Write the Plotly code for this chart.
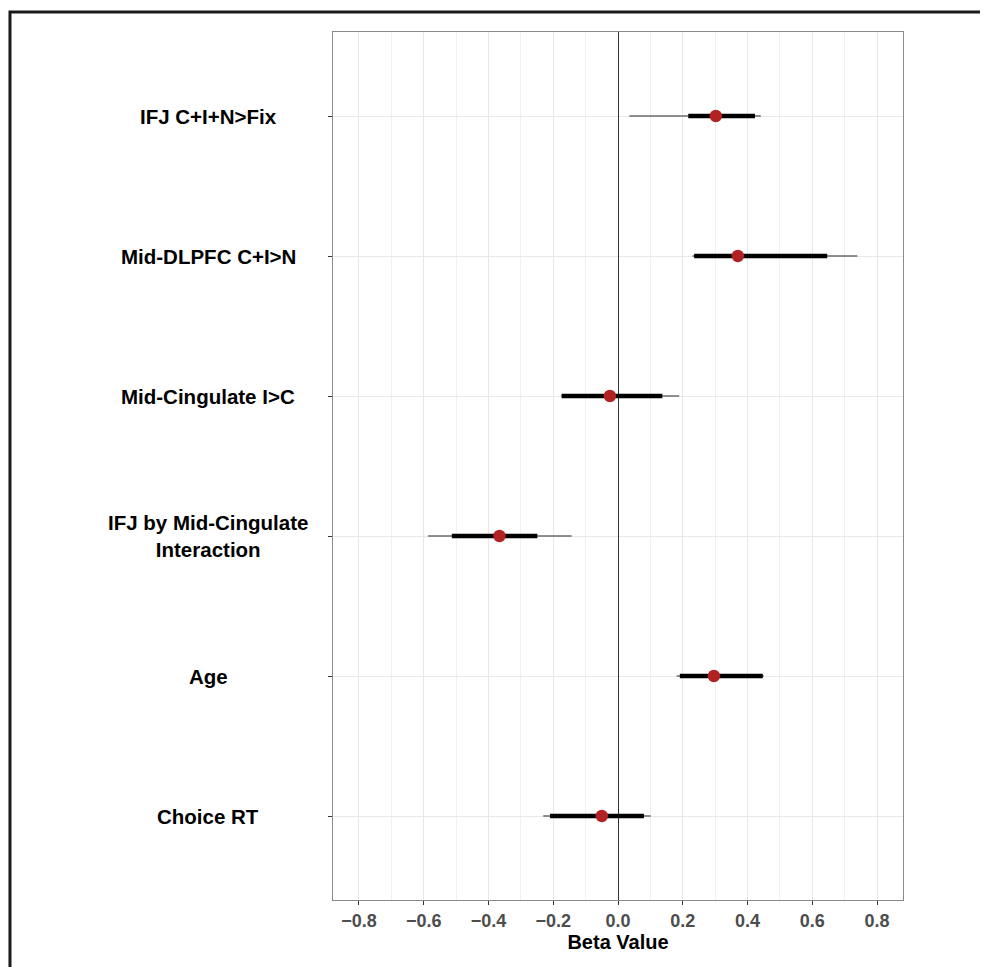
import plotly.graph_objects as go

labels = ["IFJ C+I+N>Fix", "Mid-DLPFC C+I>N", "Mid-Cingulate I>C",
          "IFJ by Mid-Cingulate\nInteraction", "Age", "Choice RT"]
beta = [0.302, 0.370, -0.025, -0.366, 0.296, -0.050]
outer_lo = [0.035, 0.230, -0.175, -0.587, 0.181, -0.231]
outer_hi = [0.441, 0.739, 0.189, -0.143, 0.450, 0.101]
inner_lo = [0.217, 0.235, -0.174, -0.513, 0.191, -0.210]
inner_hi = [0.423, 0.646, 0.137, -0.249, 0.447, 0.080]
x_ticks = [-0.8, -0.6, -0.4, -0.2, 0.0, 0.2, 0.4, 0.6, 0.8]

cats = [l.replace("\n", " ") for l in labels]

fig = go.Figure()

for c, lo, hi in zip(cats, outer_lo, outer_hi):
    fig.add_trace(go.Scatter(x=[lo, hi], y=[c, c], mode="lines",
                             line=dict(color="#6b6b6b", width=1.5),
                             showlegend=False, hoverinfo="skip"))
for c, lo, hi in zip(cats, inner_lo, inner_hi):
    fig.add_trace(go.Scatter(x=[lo, hi], y=[c, c], mode="lines",
                             line=dict(color="black", width=4.5),
                             showlegend=False, hoverinfo="skip"))
fig.add_trace(go.Scatter(x=beta, y=cats, mode="markers",
                         marker=dict(color="#b22222", size=12.5),
                         showlegend=False))

for c, l in zip(cats, labels):
    fig.add_annotation(x=-0.219, xref="paper", y=c, yref="y",
                       text=l.replace("\n", "<br>"), showarrow=False,
                       xanchor="center", yanchor="middle",
                       font=dict(family="Liberation Sans, Arial", size=20.5, color="black", weight="bold"))

fig.add_shape(type="rect", xref="paper", yref="paper",
              x0=-0.5667, x1=2, y0=-1, y1=1.023,
              line=dict(color="#1a1a1a", width=3), fillcolor="rgba(0,0,0,0)", layer="above")

fig.update_layout(
    width=980, height=959,
    margin=dict(l=325, r=85, t=24, b=67),
    paper_bgcolor="white", plot_bgcolor="white",
    font=dict(family="Liberation Sans, Arial"),
    xaxis=dict(
        range=[-0.88, 0.88], tickvals=x_ticks,
        ticktext=[("\u2212" if v < 0 else "") + f"{abs(v):.1f}" for v in x_ticks],
        showgrid=True, gridcolor="#e8e8e8", gridwidth=1,
        minor=dict(dtick=0.1, tick0=0.1, showgrid=True, gridcolor="#f0f0f0", gridwidth=1),
        zeroline=True, zerolinecolor="#333333", zerolinewidth=1.3,
        showline=True, mirror=True, linecolor="#8a8a8a", linewidth=1.3,
        ticks="outside", ticklen=4, tickcolor="#333333", tickwidth=1.2,
        tickfont=dict(size=18, color="#4d4d4d", weight="bold"),
        title=dict(text="Beta Value", font=dict(size=20, color="black", weight="bold"), standoff=5),
    ),
    yaxis=dict(
        type="category", categoryarray=cats[::-1], range=[-0.6, 5.6],
        showticklabels=False,
        showgrid=True, gridcolor="#e8e8e8", gridwidth=1,
        showline=True, mirror=True, linecolor="#8a8a8a", linewidth=1.3,
        ticks="outside", ticklen=4, tickcolor="#333333", tickwidth=1.2,
    ),
)

fig.write_html("out.html")
